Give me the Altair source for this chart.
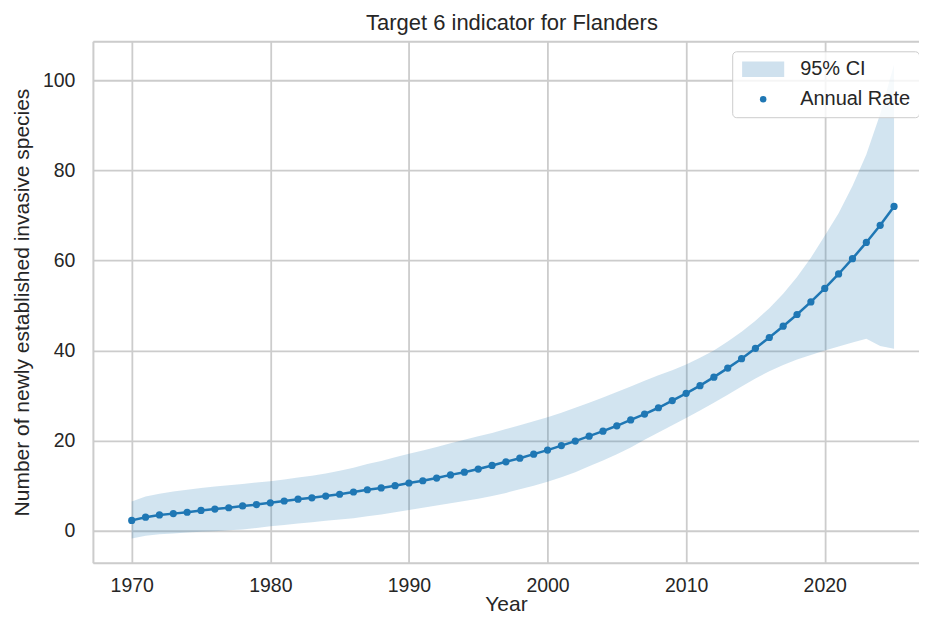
import altair as alt
import pandas as pd

years = list(range(1970, 2026))
annual_rate = [
    2.3, 3.0, 3.5, 3.8, 4.1, 4.5, 4.8, 5.1, 5.5, 5.8,
    6.2, 6.6, 7.0, 7.3, 7.7, 8.1, 8.6, 9.1, 9.5, 10.0,
    10.6, 11.1, 11.7, 12.4, 13.0, 13.7, 14.5, 15.3, 16.1, 17.0,
    17.9, 18.9, 19.9, 21.0, 22.1, 23.3, 24.6, 25.9, 27.3, 28.9,
    30.5, 32.2, 34.1, 36.1, 38.2, 40.5, 42.9, 45.4, 48.0, 50.8,
    53.8, 57.0, 60.4, 64.0, 67.8, 72.0,
]
ci_upper = [
    6.5, 7.6, 8.2, 8.7, 9.1, 9.5, 9.8, 10.1, 10.4, 10.7,
    11.0, 11.4, 11.8, 12.2, 12.7, 13.3, 14.0, 14.8, 15.5, 16.3,
    17.1, 17.8, 18.6, 19.4, 20.2, 21.0, 21.7, 22.6, 23.4, 24.3,
    25.2, 26.2, 27.3, 28.4, 29.6, 30.8, 32.0, 33.3, 34.5, 35.6,
    36.9, 38.4, 40.0, 42.0, 44.2, 46.6, 49.4, 52.6, 56.3, 60.6,
    65.5, 70.5, 76.5, 83.5, 92.5, 103.5,
]
ci_lower = [
    -1.7, -1.1, -0.8, -0.6, -0.4, -0.2, -0.1, 0.1, 0.3, 0.6,
    1.0, 1.3, 1.6, 1.9, 2.2, 2.5, 2.8, 3.2, 3.6, 4.1,
    4.6, 5.1, 5.6, 6.1, 6.6, 7.1, 7.7, 8.4, 9.2, 10.0,
    10.9, 11.9, 13.0, 14.3, 15.6, 17.0, 18.5, 20.2, 21.8, 23.4,
    25.0, 26.7, 28.4, 30.2, 32.0, 33.8, 35.4, 36.8, 38.0, 39.0,
    40.0, 40.9, 41.8, 42.6, 41.0, 40.4,
]
legend_labels = ["95% CI", "Annual Rate"]
x_ticks = [1970, 1980, 1990, 2000, 2010, 2020]
y_ticks = [0, 20, 40, 60, 80, 100]

df = pd.DataFrame({
    "Year": years,
    "rate": annual_rate,
    "lower": ci_lower,
    "upper": ci_upper,
    "series": ["Annual Rate"] * len(years),
})

BLUE = "#1f77b4"
TEXT = "#262626"
GRID = "#cccccc"
FONT = "Liberation Sans"

xscale = alt.Scale(domain=[1967.2, 2026.8], nice=False, zero=False)
yscale = alt.Scale(domain=[-7.1, 108.65], nice=False, zero=False)

x_axis = alt.Axis(
    values=x_ticks, format="d", title="Year", orient="bottom",
    labelFont=FONT, labelFontSize=19.5, labelColor=TEXT, labelPadding=14,
    titleFont=FONT, titleFontSize=21, titleFontWeight="normal", titleColor=TEXT,
    titleBaseline="alphabetic", titlePadding=15,
    ticks=False, tickSize=0, grid=True, gridColor=GRID, gridWidth=1.8,
    domain=True, domainColor=GRID, domainWidth=2,
)
y_axis = alt.Axis(
    values=y_ticks, title="Number of newly established invasive species",
    labelFont=FONT, labelFontSize=19.5, labelColor=TEXT, labelPadding=18,
    titleFont=FONT, titleFontSize=21, titleFontWeight="normal", titleColor=TEXT,
    titlePadding=10,
    ticks=False, tickSize=0, grid=True, gridColor=GRID, gridWidth=1.8,
    domain=True, domainColor=GRID, domainWidth=2,
)
top_axis = alt.Axis(
    orient="top", labels=False, ticks=False, tickSize=0, grid=False, title=None,
    domain=True, domainColor=GRID, domainWidth=2, minExtent=0, maxExtent=0,
)

legend = alt.Legend(
    title=None, orient="none", legendX=640, legendY=10,
    labelFont=FONT, labelFontSize=20, labelColor=TEXT,
    symbolSize=42, symbolStrokeWidth=0, symbolOpacity=1,
    padding=8, symbolOffset=13, labelOffset=27, rowPadding=10,
    fillColor="rgba(255,255,255,0.8)", strokeColor="#cccccc", cornerRadius=4,
)

rect_path = "M-6.5,-2.4H6.5V2.4H-6.5Z"

base = alt.Chart(df)

band = base.mark_area(color=BLUE, opacity=0.2).encode(
    x=alt.X("Year:Q", scale=xscale, axis=x_axis),
    y=alt.Y("lower:Q", scale=yscale, axis=y_axis),
    y2="upper:Q",
)
line = base.mark_line(color=BLUE, strokeWidth=2.5).encode(
    x=alt.X("Year:Q", axis=None),
    y="rate:Q",
)
points = base.mark_point(filled=True, size=52, opacity=1).encode(
    x=alt.X("Year:Q", axis=top_axis),
    y="rate:Q",
    color=alt.Color("series:N", scale=alt.Scale(domain=legend_labels, range=["#cfe1ee", BLUE]), legend=legend),
    shape=alt.Shape("series:N", scale=alt.Scale(domain=legend_labels, range=[rect_path, "circle"]), legend=legend),
)

chart = alt.layer(band, line, points).resolve_axis(x="independent").properties(
    width=827,
    height=522,
    padding={"left": 85, "top": 33, "right": 0, "bottom": 52},
    autosize=alt.AutoSizeParams(type="none"),
    title=alt.TitleParams(
        "Target 6 indicator for Flanders", font=FONT, fontSize=22, fontWeight="normal",
        color=TEXT, anchor="middle", offset=11, baseline="alphabetic", dx=6, dy=22,
    ),
).configure_view(stroke=None).configure(background="white")

chart.save("out.html", embed_options={"renderer": "svg", "actions": False})
